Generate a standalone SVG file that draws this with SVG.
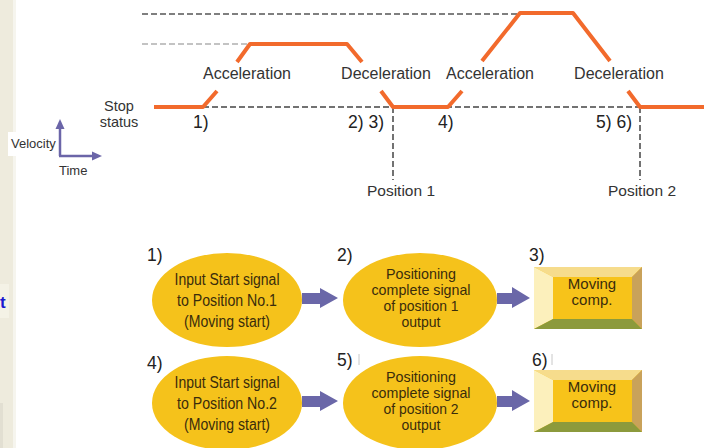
<svg xmlns="http://www.w3.org/2000/svg" width="704" height="448" viewBox="0 0 704 448">
<defs>
<style>
.lbl{font-family:"Liberation Sans",Arial,sans-serif;fill:#333;}
.num{font-family:"Liberation Sans",Arial,sans-serif;font-size:17.5px;fill:#222;}
.ell{fill:#f5c21b;}
.etx{font-family:"Liberation Sans",Arial,sans-serif;fill:#3a2c0c;text-anchor:middle;}
.btx{font-family:"Liberation Sans",Arial,sans-serif;font-size:15px;fill:#3a2c0c;text-anchor:middle;}
.orange{fill:none;stroke:#f26a2c;stroke-width:4;stroke-linejoin:round;}
.dash{fill:none;stroke:#444;stroke-width:1.5;stroke-dasharray:6 3;}
.arrow{fill:#6a67a8;}
</style>
</defs>
<rect width="704" height="448" fill="#ffffff"/>
<!-- left strip -->
<rect x="0" y="0" width="13" height="448" fill="#eeebdd"/>
<rect x="13" y="0" width="3" height="448" fill="#f6f5ee"/>
<rect x="0" y="284" width="9" height="34" fill="#f4f2e6"/>
<text x="0" y="308" font-family="Liberation Sans,Arial,sans-serif" font-size="17" font-weight="bold" fill="#1a1ad0">t</text>
<rect x="0" y="403" width="3" height="45" fill="#e2dfd2"/>

<!-- chart -->
<g id="chart">
<line x1="142" y1="14" x2="520" y2="14" stroke="#555" stroke-width="1.5" stroke-dasharray="6 3"/>
<line x1="142" y1="44" x2="250" y2="44" stroke="#b0b0b0" stroke-width="1.5" stroke-dasharray="6 3"/>
<line class="dash" x1="203" y1="107" x2="640" y2="107"/>
<line class="dash" x1="393" y1="107" x2="393" y2="180"/>
<line class="dash" x1="640" y1="107" x2="640" y2="180"/>
<path class="orange" d="M154,107 H203 L217,91"/>
<path class="orange" d="M237,62 L250,44 H347 L362,62"/>
<path class="orange" d="M381,91 L393,107 H448 L462,91"/>
<path class="orange" d="M482,61 L520,13 H573 L610,61"/>
<path class="orange" d="M628,91 L640,107 H704"/>
<text class="lbl" x="247" y="79" font-size="16" text-anchor="middle">Acceleration</text>
<text class="lbl" x="386" y="79" font-size="16" text-anchor="middle">Deceleration</text>
<text class="lbl" x="490" y="79" font-size="16" text-anchor="middle">Acceleration</text>
<text class="lbl" x="619" y="79" font-size="16" text-anchor="middle">Deceleration</text>
<text class="lbl" x="119" y="111" font-size="14.5" text-anchor="middle">Stop</text>
<text class="lbl" x="119" y="127" font-size="14.5" text-anchor="middle">status</text>
<text class="num" x="193" y="128">1)</text>
<text class="num" x="348" y="128">2) 3)</text>
<text class="num" x="438" y="128">4)</text>
<text class="num" x="596" y="128">5) 6)</text>
<text class="lbl" x="401" y="196" font-size="15.5" text-anchor="middle">Position 1</text>
<text class="lbl" x="642" y="196" font-size="15.5" text-anchor="middle">Position 2</text>
</g>

<!-- axes legend -->
<g id="axes">
<rect x="8" y="132" width="49" height="24" fill="#ffffff"/>
<text class="lbl" x="11" y="148" font-size="13" fill="#222">Velocity</text>
<line x1="60" y1="156" x2="60" y2="127" stroke="#6b65a8" stroke-width="2.5"/>
<polygon points="60,119 55.5,129 64.5,129" fill="#6b65a8"/>
<line x1="59" y1="156" x2="94" y2="156" stroke="#6b65a8" stroke-width="2.5"/>
<polygon points="102,156 92,151.5 92,160.5" fill="#6b65a8"/>
<text class="lbl" x="59" y="175" font-size="13">Time</text>
</g>

<!-- row 1 -->
<g id="node1">
<text class="num" x="147" y="261">1)</text>
<ellipse class="ell" cx="227" cy="300" rx="75" ry="47"/>
<text class="etx" x="227" y="285" font-size="16" textLength="105" lengthAdjust="spacingAndGlyphs">Input Start signal</text>
<text class="etx" x="227" y="306" font-size="16" textLength="100" lengthAdjust="spacingAndGlyphs">to Position No.1</text>
<text class="etx" x="227" y="327" font-size="16" textLength="86" lengthAdjust="spacingAndGlyphs">(Moving start)</text>
</g>
<g id="node2">
<text class="num" x="337" y="261">2)</text>
<ellipse class="ell" cx="420" cy="300" rx="77" ry="47"/>
<text class="etx" x="421" y="279" font-size="14.5" textLength="70" lengthAdjust="spacingAndGlyphs">Positioning</text>
<text class="etx" x="421" y="295" font-size="14.5" textLength="99" lengthAdjust="spacingAndGlyphs">complete signal</text>
<text class="etx" x="421" y="311" font-size="14.5" textLength="75" lengthAdjust="spacingAndGlyphs">of position 1</text>
<text class="etx" x="421" y="327" font-size="14.5" textLength="39" lengthAdjust="spacingAndGlyphs">output</text>
</g>
<g id="node3">
<text class="num" x="529" y="261">3)</text>
<rect x="534" y="267" width="108" height="62" fill="#f7c31a"/>
<polygon points="534,267 642,267 632,277 553,277" fill="#f6dc8c"/>
<polygon points="534,267 553,277 553,319 534,329" fill="#fcf0bc"/>
<polygon points="642,267 642,329 632,319 632,277" fill="#c9a25a"/>
<polygon points="534,329 553,319 632,319 642,329" fill="#8c9a3c"/>
<rect x="553" y="277" width="79" height="42" fill="#f7c31a"/>
<text class="btx" x="592" y="289">Moving</text>
<text class="btx" x="592" y="305">comp.</text>
</g>

<!-- row 2 -->
<g id="node4">
<rect x="145" y="352" width="23" height="20" fill="#ffffff"/>
<text class="num" x="147" y="369">4)</text>
<ellipse class="ell" cx="227" cy="403" rx="75" ry="47"/>
<text class="etx" x="227" y="388" font-size="16" textLength="105" lengthAdjust="spacingAndGlyphs">Input Start signal</text>
<text class="etx" x="227" y="409" font-size="16" textLength="100" lengthAdjust="spacingAndGlyphs">to Position No.2</text>
<text class="etx" x="227" y="430" font-size="16" textLength="86" lengthAdjust="spacingAndGlyphs">(Moving start)</text>
</g>
<g id="node5">
<text class="num" x="337" y="366">5)</text>
<line x1="359" y1="354" x2="359" y2="365" stroke="#c8c8c8" stroke-width="1"/>
<ellipse class="ell" cx="420" cy="403" rx="77" ry="47"/>
<text class="etx" x="421" y="382" font-size="14.5" textLength="70" lengthAdjust="spacingAndGlyphs">Positioning</text>
<text class="etx" x="421" y="398" font-size="14.5" textLength="99" lengthAdjust="spacingAndGlyphs">complete signal</text>
<text class="etx" x="421" y="414" font-size="14.5" textLength="75" lengthAdjust="spacingAndGlyphs">of position 2</text>
<text class="etx" x="421" y="430" font-size="14.5" textLength="39" lengthAdjust="spacingAndGlyphs">output</text>
</g>
<g id="node6">
<text class="num" x="532" y="366">6)</text>
<line x1="552" y1="354" x2="552" y2="365" stroke="#c8c8c8" stroke-width="1"/>
<rect x="534" y="370" width="108" height="62" fill="#f7c31a"/>
<polygon points="534,370 642,370 632,380 553,380" fill="#f6dc8c"/>
<polygon points="534,370 553,380 553,422 534,432" fill="#fcf0bc"/>
<polygon points="642,370 642,432 632,422 632,380" fill="#c9a25a"/>
<polygon points="534,432 553,422 632,422 642,432" fill="#8c9a3c"/>
<rect x="553" y="380" width="79" height="42" fill="#f7c31a"/>
<text class="btx" x="592" y="392">Moving</text>
<text class="btx" x="592" y="408">comp.</text>
</g>

<!-- connectors -->
<g id="connectors">
<polygon class="arrow" points="302,293 320,293 320,288 338,298 320,308 320,304 302,304"/>
<polygon class="arrow" points="497,293 512,293 512,287 530,298 512,308 512,304 497,304"/>
<polygon class="arrow" points="302,396 320,396 320,391 338,401 320,411 320,407 302,407"/>
<polygon class="arrow" points="497,396 512,396 512,390 530,401 512,411 512,407 497,407"/>
</g>
</svg>
